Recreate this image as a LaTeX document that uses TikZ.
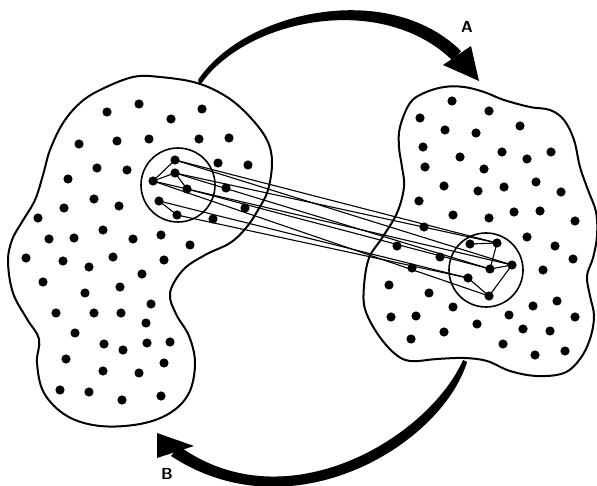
\documentclass[tikz,border=0pt]{standalone}
\usepackage{tikz}
\tikzset{
  blob/.style={line width=2pt, line join=round},
  ring/.style={draw, line width=1.6pt},
  link/.style={line width=1.1pt},
  heavy/.style={fill=black},
  tag/.style={font=\fontsize{16}{16}\selectfont\sffamily\bfseries, inner sep=0pt},
}

\begin{document}
\begin{tikzpicture}[x=1pt, y=-1pt]
  \useasboundingbox (0,0) rectangle (597,486);

  % the two clusters
  \draw[blob] plot[smooth cycle, tension=0.6] coordinates {
    (50,150) (63,123) (80,103) (100,90) (133,77) (160,77) (197,83) (227,97)
    (250,117) (267,140) (272,162) (268,190) (258,210) (246,228) (230,243)
    (205,255) (183,270) (170,293) (176,314) (189,336) (195,363) (189,393)
    (170,413) (140,424) (100,426) (67,416) (44,393) (37,363) (39,339)
    (27,319) (13,293) (8,262) (12,240) (22,222) (35,200) (43,175)};
  \draw[blob] plot[smooth cycle, tension=0.6] coordinates {
    (400,127) (410,103) (424,93) (444,87) (464,87) (484,92) (504,100)
    (530,107) (550,110) (564,120) (574,140) (580,167) (588,190) (596,212)
    (597,236) (593,258) (587,276) (590,296) (594,316) (590,339) (580,359)
    (564,373) (537,376) (510,371) (487,361) (464,358) (437,359) (410,361)
    (394,353) (377,333) (365,309) (364,286) (369,258) (382,238) (397,213)
    (404,187) (402,167) (399,147)};

  % subsets
  \coordinate (ringL) at (178,185);
  \coordinate (ringR) at (486,270);
  \draw[ring] (ringL) circle (37pt);
  \draw[ring] (ringR) circle (37pt);

  \coordinate (L1) at (175,160);
  \coordinate (L2) at (175,173);
  \coordinate (L3) at (153,181);
  \coordinate (L4) at (187,189);
  \coordinate (L5) at (159,201);
  \coordinate (L6) at (177,215);
  \coordinate (R1) at (470,244);
  \coordinate (R2) at (497,243);
  \coordinate (R3) at (512,265);
  \coordinate (R4) at (490,269);
  \coordinate (R5) at (468,278);
  \coordinate (R6) at (489,296);

  % links inside each ring
  \draw[link] (L1) -- (L3) -- (L2) -- (L4);
  \draw[link] (L5) -- (L6);
  \draw[link] (R1) -- (R2) -- (R4) -- (R3) -- (R6) -- (R5);

  % links across
  \draw[link] (L1) -- (R2);
  \draw[link] (L1) -- (R3);
  \draw[link] (L2) -- (R2);
  \draw[link] (L2) -- (R4);
  \draw[link] (L3) -- (R6);
  \draw[link] (L3) -- (R3);
  \draw[link] (L4) -- (R4);
  \draw[link] (L5) -- (R5);
  \draw[link] (L6) -- (R5);

  \foreach \n in {L1,L2,L3,L4,L5,L6,R1,R2,R3,R4,R5,R6}
    \fill (\n) circle (4.6pt);

  % left cluster members
  \foreach \x/\y in {107/112,139/104,171/119,202/109,79/144,117/141,149/139,
      199/139,229/138,97/168,127/170,218/163,248/165,68/179,226/188,94/199,
      64/208,119/206,245/208,213/219,38/218,49/239,74/238,103/230,133/239,
      161/235,190/245,26/258,63/261,89/267,113/257,164/260,142/274,43/282,
      85/293,120/287,151/304,56/313,94/313,121/313,146/323,75/333,104/344,
      123/350,147/343,170/342,66/359,103/371,139/373,164/363,60/390,89/392,
      122/400,161/396}
    \fill (\x,\y) circle (4.6pt);

  % right cluster members
  \foreach \x/\y in {452/101,489/111,420/118,520/126,445/130,476/133,423/147,
      460/157,502/152,527/159,551/152,425/167,484/169,444/186,478/191,
      504/187,536/182,561/192,419/201,453/215,489/218,514/212,540/211,
      575/221,424/227,527/237,555/246,397/246,573/259,440/257,412/268,
      543/270,389/285,429/293,453/307,533/306,557/301,575/317,391/317,
      416/316,509/315,477/324,523/329,550/331,411/339,444/332,503/344,
      535/355,565/351}
    \fill (\x,\y) circle (4.6pt);

  % arrow A
  \coordinate (fromA) at (199,83);
  \coordinate (toA) at (479,81);
  \fill[heavy] (fromA) -- (198,80) .. controls (244,11) and (388,-21) .. (461,51)
    -- (453,61) .. controls (382,-9) and (246,19) .. (201,84) -- cycle;
  \fill[heavy] (443,65) -- (toA) -- (471,46) -- cycle;
  \node[tag] (tagA) at (467,27) {A};

  % arrow B
  \coordinate (fromB) at (465,361);
  \coordinate (toB) at (157,433);
  \fill[heavy] (fromB) -- (467,362) .. controls (442,444) and (293,536) .. (171,456)
    -- (179,446) .. controls (287,524) and (429,437) .. (463,360) -- cycle;
  \fill[heavy] (157,458) -- (toB) -- (194,446) -- cycle;
  \node[tag] (tagB) at (167,474) {B};
\end{tikzpicture}
\end{document}
